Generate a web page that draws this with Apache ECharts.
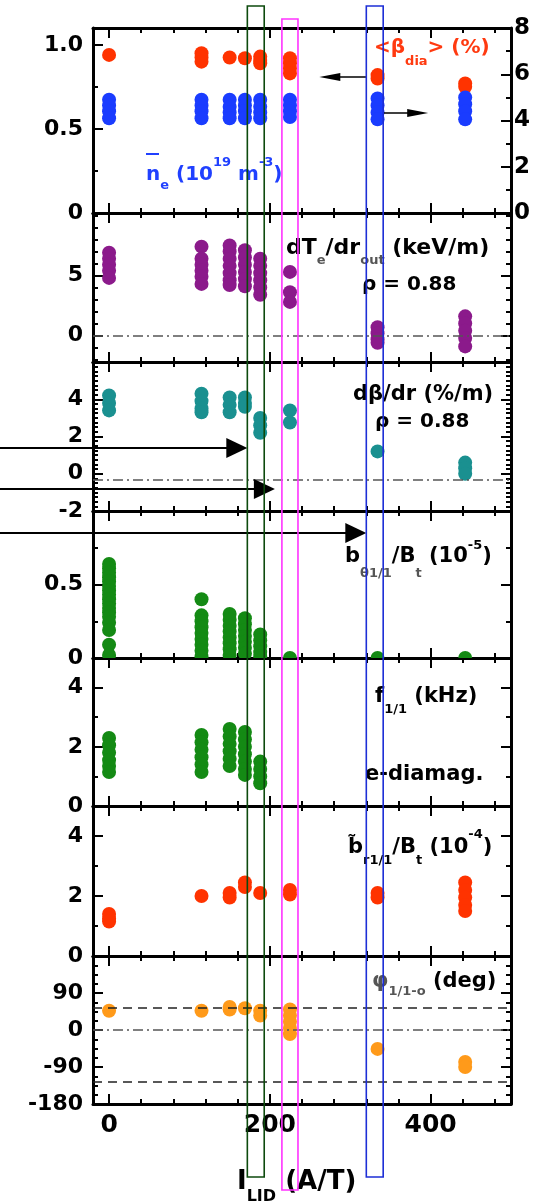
<!DOCTYPE html>
<html>
<head>
<meta charset="utf-8">
<script src="https://cdn.jsdelivr.net/npm/echarts@6/dist/echarts.min.js"></script>
<style>
  html, body { margin: 0; padding: 0; background: #fff; }
  #chart { width: 540px; height: 1202px; }
</style>
</head>
<body>
<div id="chart"></div>
<script>
// Coil current I_LID (A/T) of each discharge group
const iLid = [0, 115, 150, 169, 188, 225, 334, 443];

// Per-group values, one inner list per I_LID entry
const betaDia = [[0.94], [0.95, 0.925, 0.90], [0.925], [0.92], [0.93, 0.91, 0.89], [0.92, 0.89, 0.86, 0.83], [0.82, 0.80], [0.77, 0.75]];
const neBar = [[4.9, 4.65, 4.4, 4.1], [4.9, 4.65, 4.4, 4.1], [4.9, 4.6, 4.35, 4.1], [4.9, 4.65, 4.4, 4.1], [4.9, 4.6, 4.35, 4.1], [4.9, 4.65, 4.4, 4.15], [4.95, 4.65, 4.35, 4.05], [5.0, 4.7, 4.4, 4.05]];
const dTeDr = [[6.9, 6.4, 5.9, 5.4, 4.8], [7.4, 6.4, 5.9, 5.4, 4.9, 4.3], [7.5, 7.0, 6.4, 5.8, 5.2, 4.6, 4.2], [7.1, 6.5, 5.9, 5.3, 4.7, 4.1], [6.4, 5.8, 5.2, 4.6, 4.0, 3.4], [5.3, 3.6, 2.8], [0.7, 0.2, -0.3, -0.6], [1.6, 1.0, 0.4, -0.2, -0.9]];
const dBetaDr = [[4.2, 3.8, 3.4], [4.3, 3.9, 3.5, 3.3], [4.1, 3.7, 3.3], [4.1, 3.8, 3.6], [3.0, 2.6, 2.2], [3.4, 2.75], [1.2], [0.6, 0.3, 0.0]];
const bTheta = [[0.64, 0.61, 0.58, 0.55, 0.52, 0.49, 0.46, 0.43, 0.40, 0.37, 0.34, 0.31, 0.28, 0.24, 0.19, 0.09, 0.02], [0.40, 0.29, 0.25, 0.21, 0.17, 0.13, 0.09, 0.05, 0.01], [0.30, 0.26, 0.22, 0.18, 0.14, 0.10, 0.06, 0.02], [0.27, 0.23, 0.19, 0.15, 0.11, 0.07, 0.03], [0.16, 0.12, 0.08, 0.04, 0.01], [0], [0], [0]];
const f11 = [[2.3, 2.05, 1.8, 1.55, 1.35, 1.15], [2.4, 2.15, 1.9, 1.65, 1.4, 1.15], [2.6, 2.35, 2.1, 1.85, 1.6, 1.35], [2.5, 2.25, 2.0, 1.75, 1.5, 1.25, 1.05], [1.5, 1.25, 1.0, 0.77], [], [], []];
const bR11 = [[1.4, 1.25, 1.15], [2.0], [2.1, 1.95], [2.45, 2.3], [2.1], [2.2, 2.05], [2.1, 1.95], [2.45, 2.2, 1.95, 1.7, 1.5]];
const phi11 = [[47], [47], [56, 50], [53], [47, 35], [50, 35, 20, 5, -10], [-46], [-78, -90]];

// Reference levels
const dTeZero = [0];
const dBetaZero = [-0.3];
const phiZero = [0];
const phiDashed = [55, -125];

// Highlighted I_LID windows
const windows = [[172, 193], [215, 235], [320, 341]];

// Axis labels (major ticks) and minor tick values
const xLabels = [0, 200, 400];
const xMinor = [40, 80, 120, 160, 240, 280, 320, 360, 440, 480];
const betaLabels = [0, 0.5, 1.0];
const betaMinor = [0.25, 0.75];
const neLabels = [0, 2, 4, 6, 8];
const neMinor = [1, 3, 5, 7];
const dTeLabels = [0, 5];
const dTeMinor = [-2, -1, 1, 2, 3, 4, 6, 7, 8, 9, 10];
const dBetaLabels = [-2, 0, 2, 4];
const dBetaMinor = [-1.75, -1.5, -1.25, -1, -0.75, -0.5, -0.25, 0.25, 0.5, 0.75, 1, 1.25, 1.5, 1.75, 2.25, 2.5, 2.75, 3, 3.25, 3.5, 3.75, 4.25, 4.5, 4.75, 5, 5.25, 5.5, 5.75];
const bThetaLabels = [0, 0.5];
const bThetaMinor = [0.25, 0.75];
const fLabels = [0, 2, 4];
const fMinor = [1, 3];
const bRLabels = [0, 2, 4];
const bRMinor = [1, 3];
const phiLabels = [-180, -90, 0, 90];
const phiMinor = [-157.5, -135, -112.5, -67.5, -45, -22.5, 22.5, 45, 67.5, 112.5, 135, 157.5];

const FAMILY = '"DejaVu Sans", "Liberation Sans", sans-serif';
const panelEdges = [28, 213, 362, 511, 658, 806, 956, 1104];

function pairs(cols) {
  const out = [];
  cols.forEach((vals, i) => vals.forEach(v => out.push([iLid[i], v])));
  return out;
}

const frameLine = { show: true, onZero: false, lineStyle: { color: '#000', width: 3 } };
const noLine = { show: false, onZero: false };
function tick(values, len) {
  return { show: true, inside: true, length: len, lineStyle: { color: '#000', width: 2 }, customValues: values };
}
function label(values, size, margin, formatter) {
  const l = { show: true, customValues: values, fontFamily: FAMILY, fontWeight: 'bold', fontSize: size, color: '#000', margin: margin };
  if (formatter) l.formatter = formatter;
  return l;
}

const yDefs = [
  { min: 0, max: 1.1, labels: betaLabels, minor: betaMinor, fmt: v => (Math.abs(v - 1) < 1e-9 ? '1.0' : String(v)) },
  { min: -2.2, max: 10.2, labels: dTeLabels, minor: dTeMinor },
  { min: -2, max: 6, labels: dBetaLabels, minor: dBetaMinor },
  { min: 0, max: 1, labels: bThetaLabels, minor: bThetaMinor },
  { min: 0, max: 5, labels: fLabels, minor: fMinor },
  { min: 0, max: 5, labels: bRLabels, minor: bRMinor },
  { min: -180, max: 180, labels: phiLabels, minor: phiMinor }
];

// Per panel: x axes [bottom, top, bottom-minor, top-minor], y axes [left, right, left-minor, right-minor]
const grids = [], xAxes = [], yAxes = [];
yDefs.forEach((d, i) => {
  grids.push({ left: 93, right: 29, top: panelEdges[i], height: panelEdges[i + 1] - panelEdges[i] });
  const xBase = { gridIndex: i, type: 'value', min: -20, max: 500, splitLine: { show: false } };
  xAxes.push(Object.assign({}, xBase, {
    position: 'bottom', axisLine: frameLine, axisTick: tick(xLabels, 10),
    axisLabel: i === 6 ? label(xLabels, 25, 9) : { show: false, customValues: xLabels }
  }));
  xAxes.push(Object.assign({}, xBase, {
    position: 'top', axisLine: frameLine, axisTick: tick(xLabels, 10),
    axisLabel: { show: false, customValues: xLabels }
  }));
  xAxes.push(Object.assign({}, xBase, {
    position: 'bottom', axisLine: noLine, axisTick: tick(xMinor, 5),
    axisLabel: { show: false, customValues: xMinor }
  }));
  xAxes.push(Object.assign({}, xBase, {
    position: 'top', axisLine: noLine, axisTick: tick(xMinor, 5),
    axisLabel: { show: false, customValues: xMinor }
  }));

  const yBase = { gridIndex: i, type: 'value', min: d.min, max: d.max, splitLine: { show: false } };
  yAxes.push(Object.assign({}, yBase, {
    position: 'left', axisLine: frameLine, axisTick: tick(d.labels, 10),
    axisLabel: label(d.labels, 22, 10, d.fmt)
  }));
  if (i === 0) {
    yAxes.push({
      gridIndex: i, type: 'value', min: 0, max: 8, position: 'right', splitLine: { show: false },
      axisLine: frameLine, axisTick: tick(neLabels, 10), axisLabel: label(neLabels, 23, 3)
    });
  } else {
    yAxes.push(Object.assign({}, yBase, {
      position: 'right', axisLine: frameLine, axisTick: tick(d.labels, 10),
      axisLabel: { show: false, customValues: d.labels }
    }));
  }
  yAxes.push(Object.assign({}, yBase, {
    position: 'left', axisLine: noLine, axisTick: tick(d.minor, 5),
    axisLabel: { show: false, customValues: d.minor }
  }));
  if (i === 0) {
    yAxes.push({
      gridIndex: i, type: 'value', min: 0, max: 8, position: 'right', splitLine: { show: false },
      axisLine: noLine, axisTick: tick(neMinor, 5), axisLabel: { show: false, customValues: neMinor }
    });
  } else {
    yAxes.push(Object.assign({}, yBase, {
      position: 'right', axisLine: noLine, axisTick: tick(d.minor, 5),
      axisLabel: { show: false, customValues: d.minor }
    }));
  }
});

const DOT = 14;
function scatter(panel, yOff, data, color, markLine) {
  const s = {
    type: 'scatter', xAxisIndex: panel * 4, yAxisIndex: panel * 4 + yOff,
    data: data, symbolSize: DOT, itemStyle: { color: color, opacity: 1 }, clip: true
  };
  if (markLine) s.markLine = markLine;
  return s;
}
// dots cut by the panel frame (values sitting on the axis)
function clippedDots(panel, data, color) {
  return {
    type: 'custom', xAxisIndex: panel * 4, yAxisIndex: panel * 4, clip: true,
    data: data, encode: { x: 0, y: 1 },
    renderItem: (params, api) => {
      const p = api.coord([api.value(0), api.value(1)]);
      return { type: 'circle', shape: { cx: p[0], cy: p[1], r: DOT / 2 }, style: { fill: color } };
    }
  };
}

const dashDot = { color: '#555', type: [10, 4, 2, 4], width: 1.5 };
const dashed = { color: '#222', type: [9, 6], width: 1.5 };
function refLines(values, style) {
  return values.map(v => ({ yAxis: v, lineStyle: style }));
}
function markLine(data) {
  return { silent: true, symbol: 'none', label: { show: false }, animation: false, data: data };
}

const series = [
  scatter(0, 0, pairs(betaDia), '#ff3300'),
  scatter(0, 1, pairs(neBar), '#1a3cff'),
  scatter(1, 0, pairs(dTeDr), '#8b1a8b', markLine(refLines(dTeZero, dashDot))),
  scatter(2, 0, pairs(dBetaDr), '#1a9090', markLine(refLines(dBetaZero, dashDot))),
  clippedDots(3, pairs(bTheta), '#148a14'),
  scatter(4, 0, pairs(f11), '#148a14'),
  scatter(5, 0, pairs(bR11), '#ff3300'),
  scatter(6, 0, pairs(phi11), '#ff9a1a', markLine(refLines(phiZero, dashDot).concat(refLines(phiDashed, dashed))))
];

const chart = echarts.init(document.getElementById('chart'), null, { renderer: 'canvas' });
chart.setOption({ animation: false, backgroundColor: '#fff', grid: grids, xAxis: xAxes, yAxis: yAxes, series: series });

// ---------- annotations ----------
function fontOf(size) { return 'bold ' + size + 'px ' + FAMILY; }
function richText(x, y, text, o) {
  const size = o.size || 21;
  const color = o.color || '#000';
  const subColor = o.subColor || color;
  const subOff = o.subOff == null ? 13 : o.subOff;
  const supOff = o.supOff == null ? 12 : o.supOff;
  const subSize = o.subSize || 13;
  return {
    type: 'text', x: x, y: y, z: 60,
    style: {
      text: text, align: 'left', verticalAlign: 'middle', fill: color, font: fontOf(size),
      rich: {
        m: { font: fontOf(size), fill: color, lineHeight: 40 },
        g: { font: fontOf(size), fill: subColor, lineHeight: 40 },
        s: { font: fontOf(subSize), fill: subColor, verticalAlign: 'bottom', height: 40 - 2 * subOff },
        u: { font: fontOf(13), fill: color, verticalAlign: 'top', height: 40 - 2 * supOff }
      }
    }
  };
}

function arrowHead(tipX, y, dir, len, half) {
  const bx = tipX - dir * len;
  return { type: 'polygon', z: 70, shape: { points: [[tipX, y], [bx, y - half], [bx, y + half]] }, style: { fill: '#000' } };
}
function hLine(x1, x2, y, w) {
  return { type: 'line', z: 70, shape: { x1: x1, y1: y, x2: x2, y2: y }, style: { stroke: '#000', lineWidth: w } };
}

const px = v => chart.convertToPixel({ xAxisIndex: 0 }, v);
const bandStyle = [
  { stroke: '#0d4a0d', top: 6, bottom: 1177 },
  { stroke: '#ff33ff', top: 19, bottom: 1190 },
  { stroke: '#1d2ed6', top: 6, bottom: 1177 }
];
const graphics = [];
const bandLeft = [];
windows.forEach((w, i) => {
  const x1 = px(w[0]), x2 = px(w[1]);
  bandLeft.push(x1);
  graphics.push({
    type: 'rect', z: 80,
    shape: { x: x1, y: bandStyle[i].top, width: x2 - x1, height: bandStyle[i].bottom - bandStyle[i].top },
    style: { fill: 'none', stroke: bandStyle[i].stroke, lineWidth: 1.6 }
  });
});

// long arrows pointing at the windows
[[448, bandLeft[0]], [489, bandLeft[1] - 7], [533, bandLeft[2]]].forEach(a => {
  graphics.push(hLine(0, a[1] - 18, a[0], 2));
  graphics.push(arrowHead(a[1], a[0], 1, 21, 10));
});

// axis-side arrows in the top panel
const blueL = bandLeft[2], blueR = px(windows[2][1]);
graphics.push(hLine(blueL, blueL - 30, 77, 1.5));
graphics.push(arrowHead(blueL - 47, 77, -1, 21, 4));
graphics.push(hLine(blueR, blueR + 26, 113, 1.5));
graphics.push(arrowHead(blueR + 45, 113, 1, 21, 4));

// panel labels
graphics.push(richText(374, 48, '{m|<β}{s|dia}{m|> (%)}', { size: 20, color: '#ff3a10', subOff: 14 }));
graphics.push(richText(146, 175, '{m|n}{s|e}{m| (10}{u|19}{m| m}{u|-3}{m|)}', { size: 20, color: '#2040ff', subOff: 11, supOff: 12 }));
graphics.push({ type: 'line', z: 60, shape: { x1: 146, y1: 154, x2: 159, y2: 154 }, style: { stroke: '#2040ff', lineWidth: 2 } });
graphics.push(richText(286, 248, '{m|dT}{s|e}{m|/dr}{s|out}{m| (keV/m)}', { size: 22, subColor: '#555', subOff: 13 }));
graphics.push(richText(362, 285, '{m|ρ = 0.88}', { size: 20 }));
graphics.push(richText(353, 395, '{m|dβ/dr (%/m)}', {}));
graphics.push(richText(375, 422, '{m|ρ = 0.88}', { size: 20 }));
graphics.push(richText(345, 557, '{m|b}{s|θ1/1}{m|/B}{s|t}{m| (10}{u|-5}{m|)}', { subColor: '#555', subOff: 17, supOff: 11 }));
graphics.push(richText(375, 697, '{m|f}{s|1/1}{m| (kHz)}', { subOff: 13 }));
graphics.push(richText(365, 775, '{m|e-diamag.}', {}));
graphics.push(richText(348, 848, '{m|b\u0303}{s|r1/1}{m|/B}{s|t}{m| (10}{u|-4}{m|)}', { subOff: 13, supOff: 13 }));
graphics.push(richText(372, 982, '{g|φ}{s|1/1-o}{m| (deg)}', { subColor: '#555', subOff: 10 }));
graphics.push(richText(237, 1182, '{m|I}{s|LID}{m| (A/T)}', { size: 26, subSize: 16, subOff: 15 }));

chart.setOption({ graphic: graphics });
</script>
</body>
</html>
